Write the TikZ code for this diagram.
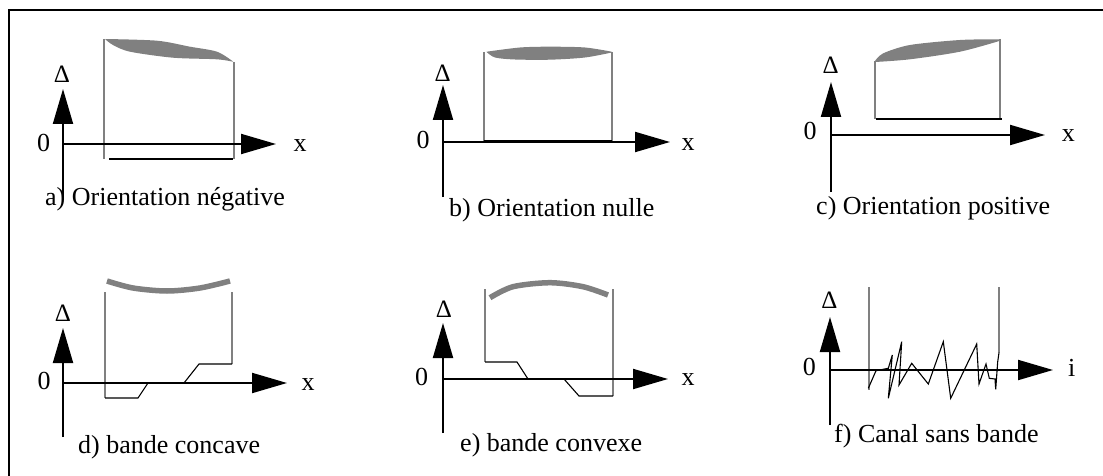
\documentclass[tikz,border=0pt]{standalone}
\usepackage{fontspec}
\setmainfont{Liberation Serif}
\usetikzlibrary{arrows.meta}
\definecolor{bandgray}{HTML}{808080}
\tikzset{
  frame/.style={line width=1.5pt},
  axis/.style={line width=2pt,-{Triangle[length=35pt,width=20pt]}},
  guide/.style={draw=bandgray,line width=1.5pt},
  bar/.style={line width=2pt},
  stepline/.style={line width=1.1pt,line join=miter},
  band/.style={fill=bandgray},
  arcband/.style={draw=bandgray,line width=5.5pt},
  caption/.style={anchor=base west,inner sep=0pt,font=\fontsize{26}{30}\selectfont},
  lbl/.style={anchor=base,inner sep=0pt,font=\fontsize{26}{30}\selectfont},
  dlt/.style={anchor=base,inner sep=0pt,font=\fontsize{25}{29}\selectfont},
}
\begin{document}
\begin{tikzpicture}[x=1pt,y=-1pt]
\useasboundingbox (0,0) rectangle (1103,476);
% frame
\coordinate (fbl) at (9,476);
\coordinate (ftl) at (9,10);
\coordinate (ftr) at (1103,10);
\draw[frame] (fbl) -- (ftl) -- (ftr);

% ---------- panel a ----------
\coordinate (a-vb) at (63,200); \coordinate (a-vt) at (63,89);
\coordinate (a-hl) at (63,144); \coordinate (a-hr) at (276,144);
\draw[guide] (104,39) -- (104,159);
\draw[guide] (234,62) -- (234,159);
\fill[band] plot[smooth,tension=0.5] coordinates {(105,39) (157,40.7) (190,46.7) (217,51.7) (233,61.5)}
  -- plot[smooth,tension=0.5] coordinates {(232.7,61.7) (216.7,59.3) (173,57.7) (130,51.7) (113,45) (105,39)} -- cycle;
\draw[bar] (109,159) -- (233,159);
\draw[axis] (a-vb) -- (a-vt);
\draw[axis] (a-hl) -- (a-hr);
\node[dlt] (a-d) at (62,83) {Δ};
\node[lbl] (a-0) at (43.5,152) {0};
\node[lbl] (a-x) at (300,151) {x};
\node[caption] (a-c) at (45,205) {a) Orientation négative};

% ---------- panel b ----------
\coordinate (b-vb) at (443,197); \coordinate (b-vt) at (443,85);
\coordinate (b-hl) at (443,142); \coordinate (b-hr) at (670,142);
\draw[guide] (484,52) -- (484,143);
\draw[guide] (612,52) -- (612,143);
\fill[band] plot[smooth,tension=0.5] coordinates {(486.7,51.7) (520,47.5) (550,46.7) (585,47.5) (611.7,51.7)}
  -- plot[smooth,tension=0.5] coordinates {(611.7,52.5) (585,57.5) (550,59.7) (515,59.5) (495,57.5) (486.7,52)} -- cycle;
\draw[line width=3pt] (484,142) -- (612,142);
\draw[axis] (b-vb) -- (b-vt);
\draw[axis] (b-hl) -- (b-hr);
\node[dlt] (b-d) at (442.7,81.7) {Δ};
\node[lbl] (b-0) at (423,148.3) {0};
\node[lbl] (b-x) at (688,150) {x};
\node[caption] (b-c) at (449,216) {b) Orientation nulle};

% ---------- panel c ----------
\coordinate (c-vb) at (831,192); \coordinate (c-vt) at (831,82);
\coordinate (c-hl) at (831,135); \coordinate (c-hr) at (1045,135);
\draw[guide] (875,61) -- (875,119);
\draw[guide] (1000,39) -- (1000,119);
\fill[band] plot[smooth,tension=0.5] coordinates {(875,61) (883.3,53.3) (910,45) (960,40) (999.3,39.3)}
  -- plot[smooth,tension=0.5] coordinates {(999.3,41) (960,51.7) (910,59.3) (875,62)} -- cycle;
\draw[bar] (876,119) -- (1002,119);
\draw[axis] (c-vb) -- (c-vt);
\draw[axis] (c-hl) -- (c-hr);
\node[dlt] (c-d) at (830.7,74) {Δ};
\node[lbl] (c-0) at (810,140) {0};
\node[lbl] (c-x) at (1068.3,141.7) {x};
\node[caption] (c-c) at (816,214) {c) Orientation positive};

% ---------- panel d ----------
\coordinate (d-vb) at (63,437); \coordinate (d-vt) at (63,328);
\coordinate (d-hl) at (63,383); \coordinate (d-hr) at (287,383);
\draw[guide] (105,292) -- (105,398);
\draw[guide] (232,292) -- (232,364);
\draw[arcband] plot[smooth] coordinates {(107,281) (133,288) (167,291) (200,288) (230,281)};
\draw[stepline] (105,398) -- (138,398) -- (148,383) -- (184,383) -- (199,364) -- (232,364);
\draw[axis] (d-vb) -- (d-vt);
\draw[axis] (d-hl) -- (d-hr);
\node[dlt] (d-d) at (63,321.7) {Δ};
\node[lbl] (d-0) at (44,389.3) {0};
\node[lbl] (d-x) at (308,390) {x};
\node[caption] (d-c) at (78,453) {d) bande concave};

% ---------- panel e ----------
\coordinate (e-vb) at (443,433); \coordinate (e-vt) at (443,323);
\coordinate (e-hl) at (443,379); \coordinate (e-hr) at (668,379);
\draw[guide] (485,289) -- (485,362);
\draw[guide] (613,289) -- (613,396);
\draw[arcband] plot[smooth] coordinates {(490,297.7) (513,286.7) (550,282.7) (583,286.7) (608,295)};
\draw[stepline] (485,362) -- (517,362) -- (528,379) -- (564,379) -- (579,396) -- (613,396);
\draw[axis] (e-vb) -- (e-vt);
\draw[axis] (e-hl) -- (e-hr);
\node[dlt] (e-d) at (444,317.3) {Δ};
\node[lbl] (e-0) at (421.7,385) {0};
\node[lbl] (e-x) at (688,385.7) {x};
\node[caption] (e-c) at (460,451) {e) bande convexe};

% ---------- panel f ----------
\coordinate (f-vb) at (830,425); \coordinate (f-vt) at (830,317);
\coordinate (f-hl) at (830,370); \coordinate (f-hr) at (1053,370);
\draw[guide] (869,287) -- (869,390);
\draw[guide] (999,287) -- (999,353);
\draw[stepline] (868.3,388.3) -- (876,370.7) -- (888.3,368.3) -- (892.3,355) -- (888.3,398.3)
  -- (901.7,341.7) -- (899,385) -- (911.7,363.3) -- (928.3,384) -- (943.3,341.7)
  -- (950.7,398.3) -- (976.7,344) -- (979,384) -- (986,364) -- (989.3,378.3)
  -- (995,379) -- (995.7,389.3) -- (997.7,361.7) -- (999,352.7);
\draw[axis] (f-vb) -- (f-vt);
\draw[axis] (f-hl) -- (f-hr);
\node[dlt] (f-d) at (829.3,308.3) {Δ};
\node[lbl] (f-0) at (809.3,375) {0};
\node[lbl] (f-i) at (1071.7,376.7) {i};
\node[caption] (f-c) at (834,442) {f) Canal sans bande};
\end{tikzpicture}
\end{document}
